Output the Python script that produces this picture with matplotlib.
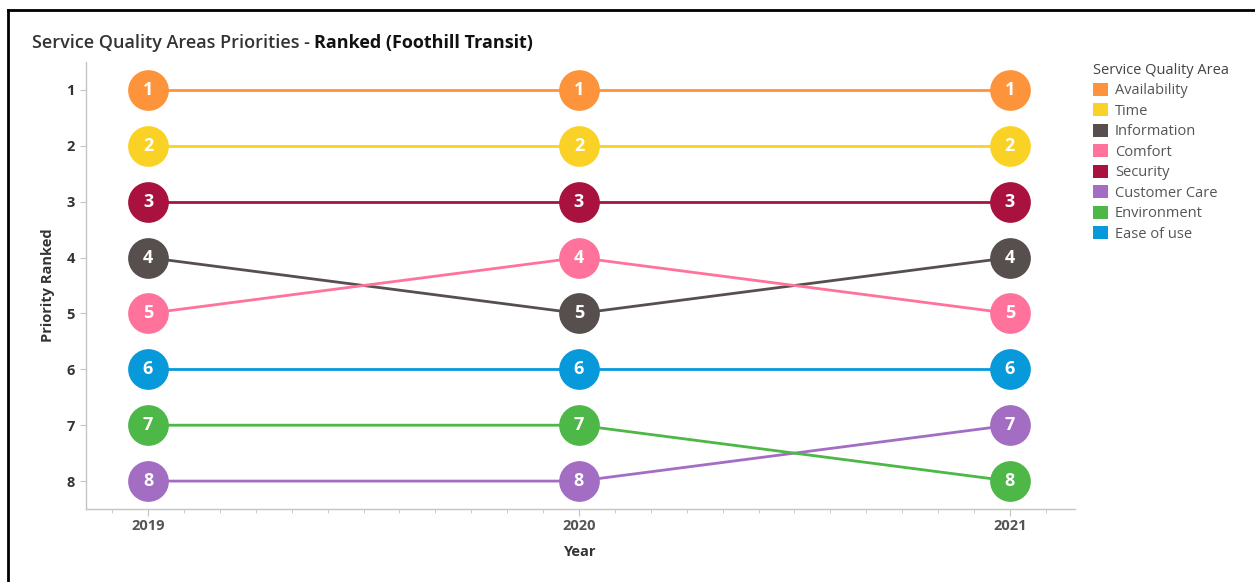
import matplotlib.pyplot as plt
from matplotlib.patches import Patch
from matplotlib.lines import Line2D
from matplotlib.ticker import MultipleLocator

plt.rcParams['font.family'] = ['Open Sans', 'DejaVu Sans']

years = [2019, 2020, 2021]
areas = ['Availability', 'Time', 'Information', 'Comfort', 'Security',
         'Customer Care', 'Environment', 'Ease of use']
ranks = {
    'Availability': [1, 1, 1],
    'Time': [2, 2, 2],
    'Information': [4, 5, 4],
    'Comfort': [5, 4, 5],
    'Security': [3, 3, 3],
    'Customer Care': [8, 8, 7],
    'Environment': [7, 7, 8],
    'Ease of use': [6, 6, 6],
}
colors = {
    'Availability': '#FD943B',
    'Time': '#FAD225',
    'Information': '#574E4E',
    'Comfort': '#FF729B',
    'Security': '#A9123E',
    'Customer Care': '#A26DC2',
    'Environment': '#4DB748',
    'Ease of use': '#0899DA',
}

fig = plt.figure(figsize=(12.55, 5.82), dpi=100)
ax = fig.add_axes([0.0685, 0.1254, 0.7881, 0.7681])

for name in areas:
    c = colors[name]
    ax.plot(years, ranks[name], color=c, lw=2.0, zorder=2)
    ax.scatter(years, ranks[name], s=860, color=c, zorder=3, linewidths=0)
    for x, r in zip(years, ranks[name]):
        ax.text(x, r, str(r), color='white', ha='center', va='center',
                fontsize=13, fontweight='bold', zorder=4)

ax.set_xlim(2018.856, 2021.151)
ax.set_ylim(8.5, 0.5)
ax.set_xticks(years)
ax.set_xticklabels([str(y) for y in years])
ax.xaxis.set_minor_locator(MultipleLocator(1 / 12))
ax.set_yticks(range(1, 9))

for s in ['top', 'right']:
    ax.spines[s].set_visible(False)
for s in ['left', 'bottom']:
    ax.spines[s].set_color('#c4c4c4')
    ax.spines[s].set_linewidth(1.0)

ax.tick_params(axis='y', length=4, color='#c4c4c4', labelsize=10.5,
               labelcolor='#333333', pad=4)
ax.tick_params(axis='x', which='major', length=5, color='#c4c4c4',
               labelsize=10.5, labelcolor='#555555', pad=2)
ax.tick_params(axis='x', which='minor', length=3, color='#c4c4c4')
for lab in ax.get_xticklabels() + ax.get_yticklabels():
    lab.set_fontweight('bold')

ax.set_xlabel('Year', fontsize=10.5, fontweight='bold', color='#333333',
              labelpad=9)
ax.set_ylabel('Priority Ranked', fontsize=10.5, fontweight='bold',
              color='#333333', labelpad=8)

t1 = fig.text(32 / 1255, 1 - 43 / 582, 'Service Quality Areas Priorities - ',
              fontsize=13, fontweight='semibold', color='#333333',
              va='center', ha='left')
ax.annotate('Ranked (Foothill Transit)', xy=(1, 0.5), xycoords=t1,
            va='center', ha='left', fontsize=13, fontweight='bold',
            color='#111111')

handles = [Patch(facecolor=colors[n], edgecolor='none') for n in areas]
leg = fig.legend(handles, areas, title='Service Quality Area',
                 loc='upper left', bbox_to_anchor=(1093 / 1255, 1 - 63 / 582),
                 frameon=False, fontsize=10.5, title_fontsize=10.5,
                 handlelength=1.0, handleheight=1.0, handletextpad=0.5,
                 labelspacing=0.34, borderaxespad=0, borderpad=0)
leg.get_title().set_color('#444444')
leg._legend_box.align = 'left'
for t in leg.get_texts():
    t.set_color('#555555')

# outer frame lines (top and left)
fig.add_artist(Line2D([8 / 1255, 1], [1 - 10 / 582, 1 - 10 / 582],
                      color='black', lw=2, transform=fig.transFigure))
fig.add_artist(Line2D([8 / 1255, 8 / 1255], [0, 1 - 10 / 582],
                      color='black', lw=2, transform=fig.transFigure))

fig.savefig('out.png', dpi=100, facecolor='white')
